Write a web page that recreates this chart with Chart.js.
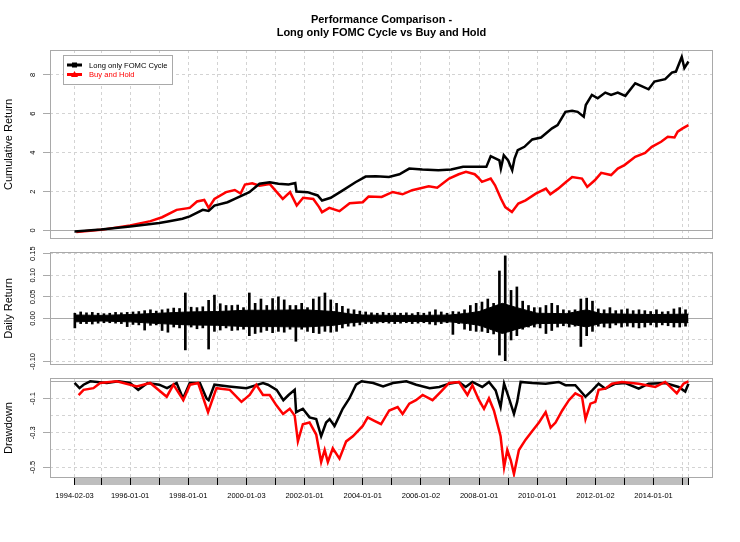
<!DOCTYPE html>
<html>
<head>
<meta charset="utf-8">
<script src="https://cdn.jsdelivr.net/npm/chart.js@4.4.1/dist/chart.umd.min.js"></script>
<style>
  html, body { margin: 0; padding: 0; background: #fff; }
  #wrap { position: relative; width: 740px; height: 542px; }
  #wrap canvas { position: absolute; left: 0; }
</style>
</head>
<body>
<div id="wrap">
  <canvas id="cumChart" width="740" height="242" style="top:0px"></canvas>
  <canvas id="retChart" width="740" height="128" style="top:242px"></canvas>
  <canvas id="ddChart" width="740" height="172" style="top:370px"></canvas>
</div>
<script>
const titleLines = ['Performance Comparison -', 'Long only FOMC Cycle vs Buy and Hold'];
const seriesNames = ['Long only FOMC Cycle', 'Buy and Hold'];
const seriesColors = ['#000000', '#ff0000'];

// dates as decimal years
const tickDates = [1994.09, 1995, 1996, 1997, 1998, 1999, 2000, 2001, 2002, 2003, 2004, 2005, 2006,
  2007, 2008, 2009, 2010, 2011, 2012, 2013, 2014, 2015, 2015.2];
const tickLabels = ['1994-02-03', '', '1996-01-01', '', '1998-01-01', '', '2000-01-03', '', '2002-01-01', '',
  '2004-01-01', '', '2006-01-02', '', '2008-01-01', '', '2010-01-01', '', '2012-01-02', '', '2014-01-01', '', ''];

// cumulative return
const fomcCumDates = [1994.09, 1995.0, 1996.0, 1997.0, 1997.3, 1997.8, 1998.05, 1998.5, 1998.7, 1998.9,
  1999.35, 1999.6, 2000.1, 2000.45, 2000.8, 2001.1, 2001.45, 2001.68, 2001.72, 2002.1,
  2002.45, 2002.6, 2002.9, 2003.3, 2003.75, 2004.1, 2004.45, 2004.9, 2005.26, 2005.6,
  2006.05, 2006.6, 2007.04, 2007.45, 2008.0, 2008.25, 2008.4, 2008.7, 2008.75, 2008.85,
  2009.0, 2009.14, 2009.22, 2009.33, 2009.56, 2009.83, 2010.13, 2010.51, 2010.7, 2010.97,
  2011.2, 2011.39, 2011.6, 2011.67, 2011.88, 2012.08, 2012.34, 2012.54, 2012.77, 2013.03,
  2013.37, 2013.57, 2013.83, 2014.03, 2014.4, 2014.63, 2014.77, 2014.97, 2015.06, 2015.2];
const fomcCum = [-0.05, 0.05, 0.2, 0.38, 0.46, 0.6, 0.72, 1.06, 1.0, 1.28,
  1.45, 1.62, 1.97, 2.4, 2.48, 2.4, 2.36, 2.44, 2.0, 1.97,
  1.8, 1.54, 1.68, 2.05, 2.48, 2.77, 2.79, 2.75, 2.89, 3.18,
  3.13, 3.1, 3.13, 3.27, 3.27, 3.27, 3.82, 3.6, 3.18, 3.87,
  3.6, 3.1, 3.7, 4.13, 4.3, 4.68, 4.78, 5.25, 5.42, 6.1,
  6.16, 6.1, 5.85, 6.45, 6.97, 6.8, 7.09, 6.97, 7.09, 6.92,
  7.57, 7.44, 7.26, 7.66, 7.78, 8.12, 8.17, 8.92, 8.35, 8.69];

const bhCumDates = [1994.15, 1995.0, 1996.0, 1996.7, 1997.1, 1997.6, 1998.05, 1998.3, 1998.55, 1998.7,
  1998.9, 1999.3, 1999.6, 1999.8, 1999.95, 2000.2, 2000.45, 2000.8, 2001.0, 2001.25,
  2001.5, 2001.73, 2001.95, 2002.3, 2002.5, 2002.6, 2002.85, 2003.2, 2003.55, 2004.0,
  2004.2, 2004.65, 2005.03, 2005.37, 2005.7, 2006.27, 2006.56, 2006.97, 2007.3, 2007.55,
  2007.85, 2007.95, 2008.1, 2008.4, 2008.55, 2008.75, 2008.9, 2009.13, 2009.35, 2009.6,
  2009.95, 2010.3, 2010.45, 2010.72, 2011.0, 2011.2, 2011.54, 2011.72, 2011.98, 2012.2,
  2012.54, 2012.77, 2013.0, 2013.37, 2013.71, 2013.94, 2014.26, 2014.49, 2014.72, 2014.83,
  2015.0, 2015.2];
const bhCum = [-0.08, 0.03, 0.26, 0.48, 0.68, 1.06, 1.16, 1.49, 1.57, 1.16,
  1.62, 1.97, 2.08, 1.9, 2.36, 2.43, 2.3, 2.39, 2.05, 1.62,
  1.97, 1.28, 1.68, 1.62, 1.2, 0.94, 1.16, 0.99, 1.4, 1.45,
  1.74, 1.72, 1.98, 1.86, 2.07, 2.27, 2.2, 2.67, 2.89, 3.01,
  2.89, 2.75, 2.5, 2.67, 2.32, 1.64, 1.2, 0.95, 1.38, 1.55,
  1.89, 2.15, 1.86, 2.15, 2.5, 2.75, 2.67, 2.24, 2.58, 2.96,
  2.85, 3.18, 3.36, 3.79, 3.99, 4.3, 4.56, 4.82, 4.78, 5.08,
  5.25, 5.42];

// daily return of the FOMC strategy: high / low reached in each 0.2 year slice from 1994.1
const retHigh = [0.012, 0.015, 0.013, 0.014, 0.012, 0.011, 0.012, 0.014, 0.013, 0.014,
  0.015, 0.016, 0.018, 0.02, 0.017, 0.02, 0.022, 0.024, 0.023, 0.059,
  0.026, 0.025, 0.027, 0.042, 0.054, 0.034, 0.03, 0.03, 0.031, 0.025,
  0.059, 0.035, 0.045, 0.03, 0.046, 0.05, 0.043, 0.03, 0.03, 0.035,
  0.025, 0.045, 0.05, 0.059, 0.043, 0.035, 0.028, 0.022, 0.02, 0.017,
  0.015, 0.013, 0.012, 0.014, 0.012, 0.013, 0.012, 0.013, 0.011, 0.014,
  0.012, 0.015, 0.02, 0.015, 0.012, 0.016, 0.015, 0.02, 0.03, 0.035,
  0.038, 0.045, 0.035, 0.11, 0.145, 0.065, 0.073, 0.04, 0.03, 0.025,
  0.025, 0.03, 0.035, 0.03, 0.02, 0.018, 0.02, 0.045, 0.047, 0.04,
  0.022, 0.02, 0.025, 0.018, 0.02, 0.022, 0.018, 0.02, 0.018, 0.016,
  0.02, 0.015, 0.016, 0.022, 0.025, 0.02];
const retLow = [-0.022, -0.012, -0.012, -0.013, -0.011, -0.01, -0.01, -0.011, -0.012, -0.019,
  -0.014, -0.015, -0.027, -0.016, -0.015, -0.028, -0.032, -0.02, -0.022, -0.073,
  -0.02, -0.024, -0.022, -0.071, -0.03, -0.027, -0.022, -0.028, -0.027, -0.025,
  -0.04, -0.035, -0.032, -0.028, -0.033, -0.03, -0.032, -0.025, -0.053, -0.025,
  -0.03, -0.033, -0.035, -0.03, -0.032, -0.03, -0.022, -0.018, -0.018, -0.015,
  -0.012, -0.012, -0.011, -0.01, -0.011, -0.012, -0.011, -0.01, -0.012, -0.011,
  -0.01, -0.013, -0.015, -0.012, -0.01, -0.037, -0.012, -0.025, -0.028, -0.03,
  -0.03, -0.033, -0.036, -0.085, -0.098, -0.05, -0.04, -0.025, -0.02, -0.02,
  -0.022, -0.035, -0.028, -0.02, -0.017, -0.02, -0.018, -0.065, -0.04, -0.03,
  -0.018, -0.02, -0.022, -0.015, -0.02, -0.018, -0.02, -0.022, -0.02, -0.015,
  -0.02, -0.015, -0.017, -0.02, -0.02, -0.018];
const retDates = retHigh.map((_, i) => +(1994.1 + 0.2 * i).toFixed(2));

// the dense core of the daily returns (where the trace is solid black)
const coreDates = [1994.09, 1995.0, 1996.0, 1997.0, 1998.0, 1999.0, 2000.0, 2001.0, 2002.0, 2003.0,
  2003.6, 2004.0, 2005.0, 2006.0, 2007.0, 2007.6, 2008.0, 2008.8, 2009.3, 2010.0,
  2011.0, 2011.7, 2012.2, 2013.0, 2014.0, 2015.2];
const coreHigh = [0.008, 0.007, 0.009, 0.012, 0.015, 0.016, 0.019, 0.019, 0.02, 0.016,
  0.01, 0.008, 0.007, 0.007, 0.008, 0.012, 0.016, 0.035, 0.025, 0.012,
  0.011, 0.02, 0.011, 0.01, 0.009, 0.01];
const coreLow = [-0.008, -0.006, -0.008, -0.012, -0.015, -0.016, -0.019, -0.019, -0.02, -0.016,
  -0.01, -0.008, -0.007, -0.007, -0.008, -0.012, -0.016, -0.035, -0.025, -0.012,
  -0.011, -0.02, -0.011, -0.01, -0.009, -0.01];

// drawdown
const fomcDdDates = [1994.09, 1994.26, 1994.4, 1994.63, 1995.2, 1995.6, 1996.0, 1996.28, 1996.6, 1997.0,
  1997.27, 1997.6, 1997.82, 1998.05, 1998.4, 1998.63, 1998.7, 1998.9, 1999.4, 2000.0,
  2000.57, 2000.74, 2001.04, 2001.27, 2001.45, 2001.66, 2001.71, 2001.94, 2002.17, 2002.4,
  2002.57, 2002.74, 2002.86, 2003.03, 2003.2, 2003.31, 2003.54, 2003.77, 2003.96, 2004.36,
  2004.7, 2005.04, 2005.5, 2005.84, 2006.3, 2006.63, 2006.97, 2007.31, 2007.54, 2007.77,
  2008.11, 2008.34, 2008.57, 2008.74, 2008.86, 2009.03, 2009.2, 2009.31, 2009.43, 2009.83,
  2010.29, 2010.74, 2010.97, 2011.31, 2011.66, 2011.89, 2012.11, 2012.34, 2012.69, 2013.03,
  2013.49, 2013.83, 2014.4, 2014.86, 2015.09, 2015.2];
const fomcDd = [-0.01, -0.04, -0.02, 0, -0.01, 0, -0.01, -0.05, -0.01, -0.02,
  -0.04, -0.01, -0.1, -0.01, -0.01, -0.1, -0.11, -0.02, -0.03, -0.04,
  -0.01, -0.02, -0.05, -0.11, -0.08, -0.05, -0.18, -0.16, -0.21, -0.22,
  -0.32, -0.24, -0.22, -0.26, -0.2, -0.16, -0.1, -0.02, 0, -0.01,
  -0.03, -0.01, 0, -0.02, -0.04, -0.033, -0.014, -0.004, -0.033, -0.004,
  -0.033, -0.004, -0.053, -0.15, -0.014, -0.1, -0.19, -0.12, -0.004, -0.01,
  -0.014, -0.004, -0.023, -0.023, -0.09, -0.053, -0.014, -0.043, -0.014, -0.01,
  -0.043, -0.014, -0.01, -0.033, -0.06, -0.014];

const bhDdDates = [1994.23, 1994.4, 1994.74, 1994.97, 1995.54, 1996.23, 1996.69, 1997.26, 1997.49, 1997.83,
  1998.06, 1998.34, 1998.68, 1998.97, 1999.43, 1999.83, 2000.11, 2000.34, 2000.57, 2000.8,
  2001.03, 2001.26, 2001.49, 2001.66, 2001.77, 2001.94, 2002.17, 2002.4, 2002.57, 2002.69,
  2002.8, 2002.97, 2003.2, 2003.43, 2003.66, 2004.0, 2004.17, 2004.4, 2004.63, 2004.91,
  2005.2, 2005.37, 2005.6, 2005.83, 2006.06, 2006.4, 2006.69, 2006.97, 2007.31, 2007.6,
  2007.77, 2008.0, 2008.17, 2008.34, 2008.51, 2008.74, 2008.86, 2008.97, 2009.09, 2009.2,
  2009.37, 2009.6, 2009.83, 2010.06, 2010.29, 2010.46, 2010.63, 2010.86, 2011.09, 2011.31,
  2011.54, 2011.66, 2011.83, 2012.0, 2012.11, 2012.34, 2012.57, 2012.91, 2013.49, 2014.06,
  2014.4, 2014.8, 2015.03, 2015.2];
const bhDd = [-0.08, -0.05, -0.04, -0.01, 0, -0.03, -0.01, -0.09, -0.02, -0.11,
  -0.02, -0.01, -0.18, -0.04, -0.05, -0.12, -0.08, -0.02, -0.08, -0.08,
  -0.14, -0.19, -0.16, -0.2, -0.35, -0.25, -0.24, -0.31, -0.47, -0.4,
  -0.47, -0.39, -0.45, -0.35, -0.32, -0.26, -0.21, -0.23, -0.25, -0.17,
  -0.15, -0.19, -0.13, -0.11, -0.08, -0.11, -0.06, -0.01, -0.004, -0.08,
  -0.023, -0.11, -0.16, -0.1, -0.17, -0.32, -0.5, -0.4, -0.46, -0.54,
  -0.4, -0.34, -0.29, -0.24, -0.18, -0.27, -0.24, -0.17, -0.11, -0.07,
  -0.09, -0.22, -0.13, -0.12, -0.05, -0.043, -0.014, -0.004, -0.014, -0.033,
  -0.004, -0.07, -0.014, 0];

const FONT = '"Liberation Sans", Arial, sans-serif';
Chart.defaults.font.family = FONT;

function pts(xs, ys) {
  return xs.map((x, i) => ({ x: x, y: ys[i] }));
}

// R style x range: data range plus 4% each side
const allDates = fomcCumDates.concat(bhCumDates);
const firstDate = Math.min(...allDates);
const lastDate = Math.max(...allDates);
const xPad = (lastDate - firstDate) * 0.04;

function xAxis(withLabels) {
  return {
    type: 'linear',
    min: firstDate - xPad,
    max: lastDate + xPad,
    offset: false,
    afterBuildTicks: s => { s.ticks = tickDates.map(v => ({ value: v })); },
    afterFit: s => { s.height = withLabels ? 64 : 0; },
    grid: { color: '#d3d3d3', offset: false, drawTicks: withLabels, tickLength: 7, tickColor: '#000', tickWidth: 1 },
    border: { display: false, dash: [3, 3] },
    ticks: {
      display: withLabels, autoSkip: false, maxRotation: 0, minRotation: 0, padding: 6,
      color: '#000', font: { size: 7.5 },
      callback: (v, i) => tickLabels[i]
    }
  };
}

function yAxis(min, max, ticks, labels) {
  return {
    min: min,
    max: max,
    afterBuildTicks: s => { s.ticks = ticks.map(v => ({ value: v })); },
    afterFit: s => { s.width = 50; },
    ticks: { display: false },
    grid: {
      color: c => (c.tick && c.tick.value === 0) ? '#a9a9a9' : '#d3d3d3',
      tickLength: 7,
      tickColor: c => labels[c.index] ? '#a9a9a9' : 'rgba(0,0,0,0)'
    },
    border: { display: false, dash: c => (c.tick && c.tick.value === 0) ? [] : [3, 3] }
  };
}

// box, rotated y labels, axis title, legend and the grey date bar
const panelPlugin = {
  id: 'panel',
  beforeDraw(chart, args, o) {
    if (!o.dateBar) return;
    const xs = chart.scales.x, a = chart.chartArea, ctx = chart.ctx;
    const x0 = xs.getPixelForValue(tickDates[0]);
    const x1 = xs.getPixelForValue(tickDates[tickDates.length - 1]);
    ctx.save();
    ctx.fillStyle = '#bebebe';
    ctx.fillRect(x0, a.bottom, x1 - x0, 7);
    ctx.restore();
  },
  afterDraw(chart, args, o) {
    const a = chart.chartArea, ctx = chart.ctx, ys = chart.scales.y;
    ctx.save();
    ctx.strokeStyle = '#a9a9a9';
    ctx.lineWidth = 1;
    ctx.strokeRect(Math.round(a.left) + 0.5, Math.round(a.top) + 0.5,
      Math.round(a.right - a.left) - 1, Math.round(a.bottom - a.top) - 1);

    ctx.fillStyle = '#000';
    ctx.textAlign = 'center';
    ctx.textBaseline = 'middle';
    ctx.font = '7.5px ' + FONT;
    o.ticks.forEach((v, i) => {
      if (!o.labels[i]) return;
      ctx.save();
      ctx.translate(33, ys.getPixelForValue(v));
      ctx.rotate(-Math.PI / 2);
      ctx.fillText(o.labels[i], 0, 0);
      ctx.restore();
    });

    ctx.font = '11px ' + FONT;
    ctx.save();
    ctx.translate(9, (a.top + a.bottom) / 2);
    ctx.rotate(-Math.PI / 2);
    ctx.fillText(o.title, 0, 0);
    ctx.restore();

    if (o.legend) {
      const lx = 63, ly = 55;
      ctx.fillStyle = '#fff';
      ctx.fillRect(lx, ly, 109, 29);
      ctx.strokeStyle = '#a9a9a9';
      ctx.strokeRect(lx + 0.5, ly + 0.5, 109, 29);
      ctx.font = '7.6px ' + FONT;
      ctx.textAlign = 'left';
      chart.data.datasets.forEach((ds, i) => {
        const y = ly + 10 + i * 9.5;
        ctx.strokeStyle = ds.borderColor;
        ctx.fillStyle = ds.borderColor;
        ctx.lineWidth = 3;
        ctx.beginPath();
        ctx.moveTo(lx + 4, y);
        ctx.lineTo(lx + 19, y);
        ctx.stroke();
        if (i === 0) {
          ctx.fillRect(lx + 9, y - 2.5, 5, 5);
        } else {
          ctx.beginPath();
          ctx.moveTo(lx + 11.5, y - 3.5);
          ctx.lineTo(lx + 15, y + 2.5);
          ctx.lineTo(lx + 8, y + 2.5);
          ctx.closePath();
          ctx.fill();
        }
        ctx.fillText(ds.label, lx + 26, y + 0.5);
      });
    }
    ctx.restore();
  }
};

function baseOptions(padding) {
  return {
    responsive: false,
    animation: false,
    devicePixelRatio: 1,
    layout: { padding: padding },
    plugins: { legend: { display: false }, tooltip: { enabled: false } }
  };
}

// panel 1: cumulative return
const cumTicks = [0, 2, 4, 6, 8];
const cumOpts = baseOptions({ top: 0, right: 27, bottom: 3, left: 0 });
cumOpts.scales = { x: xAxis(false), y: yAxis(-0.44, 9.28, cumTicks, ['0', '2', '4', '6', '8']) };
cumOpts.plugins.title = {
  display: true, text: titleLines, fullSize: false, color: '#000',
  font: { size: 11, weight: 'bold', lineHeight: 1.15 },
  padding: { top: 14, bottom: 10.7 }
};
cumOpts.plugins.panel = { ticks: cumTicks, labels: ['0', '2', '4', '6', '8'], title: 'Cumulative Return', legend: true };
new Chart(document.getElementById('cumChart'), {
  type: 'line',
  data: {
    datasets: [
      { label: seriesNames[0], data: pts(fomcCumDates, fomcCum), borderColor: seriesColors[0], borderWidth: 2.5, pointRadius: 0, order: 1 },
      { label: seriesNames[1], data: pts(bhCumDates, bhCum), borderColor: seriesColors[1], borderWidth: 2.5, pointRadius: 0, order: 2 }
    ]
  },
  options: cumOpts,
  plugins: [panelPlugin]
});

// panel 2: daily return (solid core band + spikes)
const retTicks = [-0.10, -0.05, 0, 0.05, 0.10, 0.15];
const retLabels = ['-0.10', '', '0.00', '0.05', '0.10', '0.15'];
const retOpts = baseOptions({ top: 10, right: 27, bottom: 5, left: 0 });
retOpts.scales = { x: xAxis(false), y: yAxis(-0.108, 0.154, retTicks, retLabels) };
retOpts.plugins.panel = { ticks: retTicks, labels: retLabels, title: 'Daily Return' };
new Chart(document.getElementById('retChart'), {
  type: 'bar',
  data: {
    datasets: [
      {
        type: 'line', label: 'core high', data: pts(coreDates, coreHigh),
        borderColor: '#000', borderWidth: 1, pointRadius: 0, fill: '+1', backgroundColor: '#000'
      },
      {
        type: 'line', label: 'core low', data: pts(coreDates, coreLow),
        borderColor: '#000', borderWidth: 1, pointRadius: 0, fill: false
      },
      {
        label: seriesNames[0],
        data: retDates.map((d, i) => ({ x: d, y: [retLow[i], retHigh[i]] })),
        backgroundColor: seriesColors[0],
        borderWidth: 0,
        barThickness: 2,
        grouped: false
      }
    ]
  },
  options: retOpts,
  plugins: [panelPlugin]
});

// panel 3: drawdown
const ddTicks = [-0.5, -0.4, -0.3, -0.2, -0.1, 0];
const ddLabels = ['-0.5', '', '-0.3', '', '-0.1', ''];
const ddOpts = baseOptions({ top: 8, right: 27, bottom: 0, left: 0 });
ddOpts.scales = { x: xAxis(true), y: yAxis(-0.563, 0.019, ddTicks, ddLabels) };
ddOpts.plugins.panel = { ticks: ddTicks, labels: ddLabels, title: 'Drawdown', dateBar: true };
new Chart(document.getElementById('ddChart'), {
  type: 'line',
  data: {
    datasets: [
      { label: seriesNames[0], data: pts(fomcDdDates, fomcDd), borderColor: seriesColors[0], borderWidth: 2.5, pointRadius: 0, order: 2 },
      { label: seriesNames[1], data: pts(bhDdDates, bhDd), borderColor: seriesColors[1], borderWidth: 2.5, pointRadius: 0, order: 1 }
    ]
  },
  options: ddOpts,
  plugins: [panelPlugin]
});
</script>
</body>
</html>
